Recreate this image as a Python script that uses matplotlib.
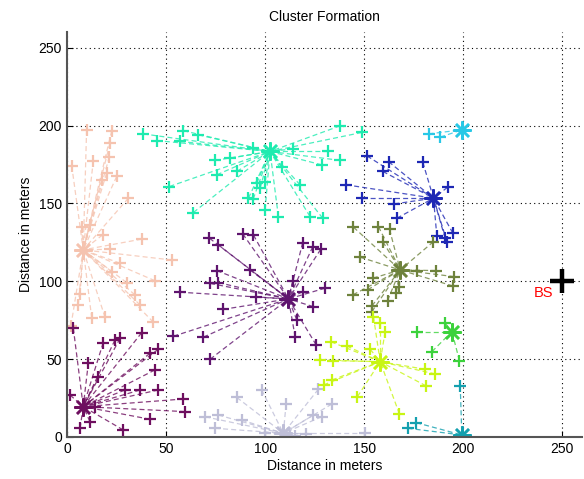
import matplotlib
matplotlib.use("Agg")
import matplotlib.pyplot as plt

# ── cluster data (meters) ─────────────────────────────────────────────────────

peach_head = (8.2, 120.2)
peach_x = [9.9, 22.6, 21.7, 21.4, 13.3, 2.4, 20.0, 25.1, 17.5, 31.0, 11.6, 7.4, 18.0,
           37.7, 21.7, 52.9, 26.8, 22.6, 44.4, 30.1, 34.3, 6.6, 36.9, 5.7, 12.5, 19.2,
           43.6, 2.0]
peach_y = [197.3, 196.8, 188.7, 180.1, 177.6, 174.2, 169.5, 167.4, 165.2, 153.4, 136.2,
           135.2, 129.8, 127.1, 120.6, 113.7, 111.6, 106.2, 100.4, 99.2, 91.3, 91.7, 84.8,
           84.8, 76.3, 76.9, 73.7, 71.5]

plum_head = (8.2, 19.5)
plum_x = [3.2, 18.3, 24.2, 26.8, 37.7, 10.8, 41.9, 46.1, 44.4, 15.8, 1.5, 29.3, 36.9,
          46.1, 58.7, 59.6, 41.9, 11.6, 6.6, 28.4, 14.1]
plum_y = [69.9, 60.6, 62.3, 63.4, 67.0, 47.8, 53.8, 56.4, 43.1, 38.4, 27.0, 30.2, 30.2,
          30.2, 24.4, 16.3, 11.4, 9.8, 5.6, 4.5, 19.5]

aqua_head = (102.5, 183.4)
aqua_x = [38.5, 45.3, 58.7, 66.3, 57.1, 94.1, 114.3, 132.0, 137.9, 137.9, 128.6, 74.7,
          82.3, 85.7, 75.6, 108.4, 100.0, 95.8, 97.5, 91.6, 94.0, 117.7, 51.7, 63.8,
          100.0, 106.7, 122.7, 129.1, 148.8]
aqua_y = [194.7, 190.4, 196.8, 194.1, 189.9, 185.5, 185.1, 183.4, 199.9, 177.7, 174.8,
          177.7, 179.1, 170.6, 168.4, 173.3, 164.1, 163.1, 159.8, 153.4, 152.8, 161.9,
          160.9, 144.2, 145.9, 141.6, 141.6, 140.5, 195.6]

sky_head = (199.3, 197.3)
sky_x = [182.5, 188.4]
sky_y = [194.7, 192.6]

navy_head = (185.0, 153.4)
navy_x = [151.4, 162.3, 159.4, 179.6, 140.9, 192.1, 148.8, 165.2, 166.5, 186.7, 190.9,
          194.8, 191.8]
navy_y = [180.6, 176.9, 170.6, 176.5, 162.0, 160.4, 153.4, 149.7, 140.5, 128.8, 127.6,
          130.9, 125.5]

olive_head = (168.2, 107.3)
olive_x = [144.6, 157.2, 162.8, 159.4, 185.0, 148.0, 176.9, 186.4, 195.5, 194.8, 154.4,
           151.7, 144.3, 167.8, 166.2, 161.8, 153.9, 153.9]
olive_y = [134.8, 135.2, 133.4, 125.5, 125.5, 115.5, 106.9, 106.9, 103.0, 97.0, 102.0,
           94.5, 91.3, 96.6, 92.7, 87.6, 84.2, 80.5]

grape_head = (111.8, 88.7)
grape_x = [71.9, 76.4, 88.7, 94.1, 119.0, 124.1, 128.1, 92.4, 75.6, 72.2, 76.4, 57.1,
           95.5, 114.0, 119.0, 130.3, 124.4, 78.9, 116.0, 115.2, 125.8, 53.7, 68.8, 72.2]
grape_y = [127.7, 123.4, 130.5, 129.8, 124.9, 122.3, 120.6, 107.3, 106.9, 98.7, 99.2,
           93.0, 89.8, 100.3, 93.4, 95.6, 83.7, 82.0, 75.2, 64.1, 59.1, 64.7, 64.1, 49.9]

lilac_head = (109.2, 2.4)
lilac_x = [98.3, 85.7, 110.6, 76.4, 69.7, 88.2, 74.7, 133.7, 124.4, 128.6, 100.0, 112.6,
           115.2, 120.7, 150.5, 126.9]
lilac_y = [30.2, 25.4, 21.2, 14.1, 13.0, 10.9, 5.6, 21.2, 14.1, 13.0, 2.4, 0.5, 0.5,
           1.9, 2.4, 30.7]

lime_head = (158.1, 48.4)
lime_x = [154.7, 158.1, 160.6, 133.2, 141.2, 153.0, 127.8, 134.5, 180.8, 185.9, 181.3,
          133.7, 129.5, 146.6, 167.8]
lime_y = [77.3, 73.1, 67.7, 61.2, 58.5, 56.4, 49.5, 49.0, 43.5, 40.5, 32.8, 36.6, 33.4,
          25.9, 14.8]

green_head = (194.3, 67.7)
green_x = [176.6, 190.9, 184.2, 198.1]
green_y = [67.7, 73.1, 54.8, 49.0]

teal_head = (199.3, 1.3)
teal_x = [198.5, 171.9, 176.3]
teal_y = [32.8, 5.6, 9.2]

clusters = [
    (peach_head, peach_x, peach_y, "#F5C3AF"),
    (plum_head, plum_x, plum_y, "#6E0F5F"),
    (aqua_head, aqua_x, aqua_y, "#1EEBAF"),
    (sky_head, sky_x, sky_y, "#28C8E6"),
    (navy_head, navy_x, navy_y, "#1E28B4"),
    (olive_head, olive_x, olive_y, "#6E823C"),
    (grape_head, grape_x, grape_y, "#5F146E"),
    (lilac_head, lilac_x, lilac_y, "#BEBED7"),
    (lime_head, lime_x, lime_y, "#C8F514"),
    (green_head, green_x, green_y, "#3CD23C"),
    (teal_head, teal_x, teal_y, "#14A0AF"),
]

bs_x, bs_y = 250, 100

plt.rcParams["font.family"] = ["Liberation Sans", "DejaVu Sans"]

fig = plt.figure(figsize=(5.84, 4.79), dpi=100)
ax = fig.add_axes([0.1147, 0.0877, 0.882, 0.845])

for (hx, hy), xs, ys, col in clusters:
    for x, y in zip(xs, ys):
        ax.plot([x, hx], [y, hy], linestyle=(0, (4, 2.5)), color=col, lw=0.9, alpha=0.8)
    ax.plot(xs, ys, "+", color=col, ms=9, mew=1.6)
    # MATLAB-style asterisk for the cluster head
    ax.plot([hx], [hy], marker=(8, 2, 0), color=col, ms=13, mew=1.8, ls="none")

ax.plot([bs_x], [bs_y], "+", color="black", ms=17, mew=3.2)
ax.text(bs_x - 14.5, bs_y - 10, "BS", color="red", fontsize=10.5)

ax.set_xlim(0, 260)
ax.set_ylim(0, 260)
ax.set_xticks(range(0, 251, 50))
ax.set_yticks(range(0, 251, 50))
ax.grid(True, linestyle=(0, (1, 3)), color="black", lw=0.8)
for s in ("top", "right"):
    ax.spines[s].set_visible(False)
for s in ("left", "bottom"):
    ax.spines[s].set_color("#555555")
    ax.spines[s].set_linewidth(1.5)
ax.tick_params(direction="in", labelsize=10, length=4)
ax.set_xlabel("Distance in meters", fontsize=10, labelpad=2)
ax.set_ylabel("Distance in meters", fontsize=10, labelpad=4)
ax.set_title("Cluster Formation", fontsize=10, pad=8)

fig.savefig("out.png", dpi=100)
